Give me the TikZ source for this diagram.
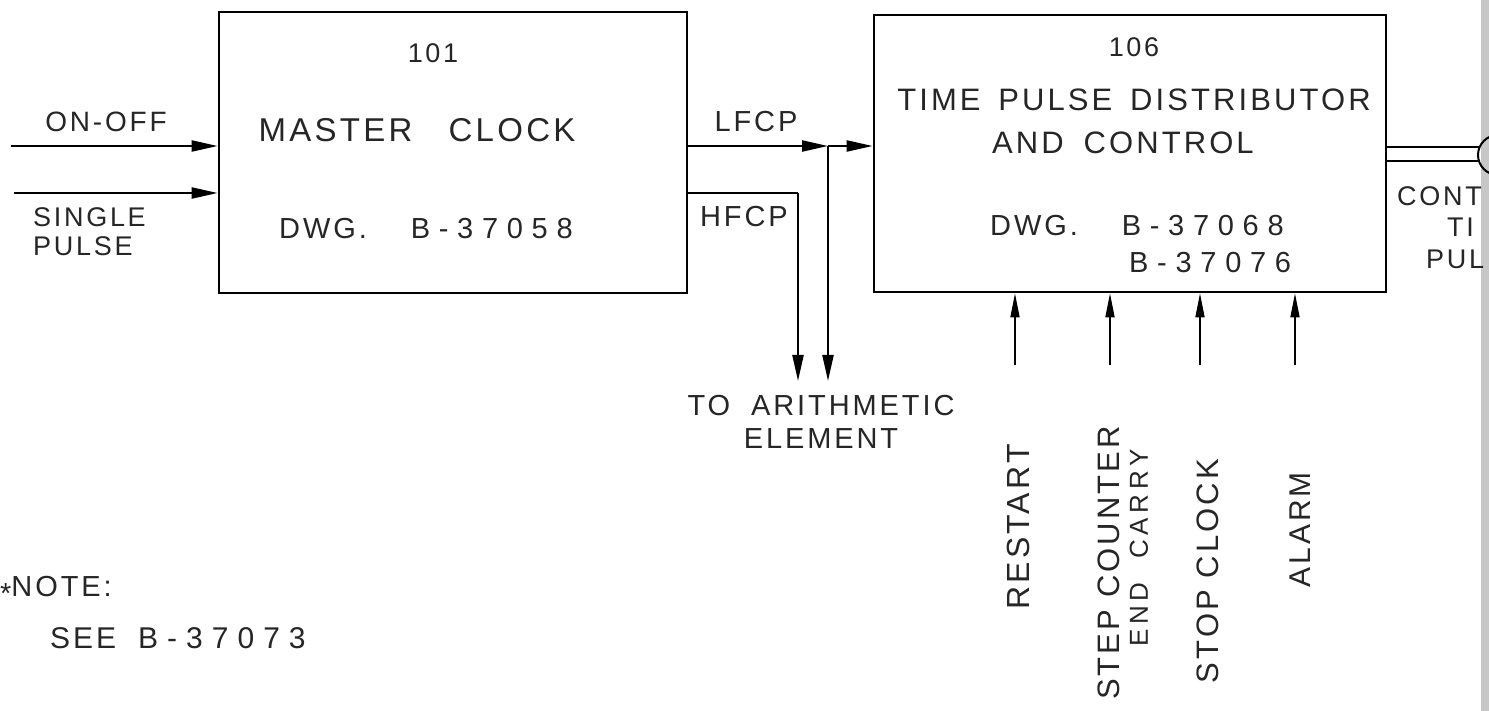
\documentclass[tikz,border=0pt]{standalone}
\usepackage{fontspec}
\setmainfont{Liberation Sans}[LetterSpace=10]
\usetikzlibrary{arrows.meta}
\newcommand{\wnum}[1]{{\addfontfeature{LetterSpace=30}#1}}
\tikzset{
  blockbox/.style={draw, line width=2.7pt, minimum width=#1, inner sep=0pt},
  txt/.style={inner sep=0pt, text=black!85, font=\fontsize{#1pt}{#1pt}\selectfont},
  arr/.style={line width=2.2pt, -{Triangle[length=26pt,width=11pt]}},
  arrthin/.style={line width=1.7pt, -{Triangle[length=24pt,width=9pt]}},
  wire/.style={line width=2.2pt}
}
\begin{document}
\begin{tikzpicture}[x=1pt,y=-1pt]
\clip (0,0) rectangle (1489,711);
\fill[white] (0,0) rectangle (1489,711);
\fill[black!22] (1481,0) rectangle (1489,711);

% blocks
\node[blockbox=468pt, minimum height=281pt] (mc) at (453,152.5) {};
\node[blockbox=512pt, minimum height=277pt] (tpd) at (1130,153.5) {};

% texts in master clock
\node[txt=27] (mcnum) at (433,53) {101};
\node[txt=33] (mcname) at (417,130) {MASTER\hspace{36pt}CLOCK};
\node[txt=29, anchor=west] (mcdwg) at (279,229) {DWG.\hspace{44pt}\wnum{B-37058}};

% texts in TPD
\node[txt=27] (tpnum) at (1134,47) {106};
\node[txt=31] (tpname) at (1134,100) {TIME\hspace{6pt} PULSE\hspace{6pt} DISTRIBUTOR};
\node[txt=31] (tpname2) at (1123,143) {AND\hspace{8pt} CONTROL};
\node[txt=29, anchor=west] (tpdwg) at (990,226) {DWG.\hspace{44pt}\wnum{B-37068}};
\node[txt=29, anchor=west] (tpdwg2) at (1129,263) {\wnum{B-37076}};

% inputs to master clock
\coordinate (onoffS) at (11,146);
\coordinate (singS) at (14,193);
\draw[arr] (onoffS) -- (onoffS -| mc.west);
\draw[arr] (singS) -- (singS -| mc.west);
\node[txt=28] (onofflab) at (106,122) {ON-OFF};
\node[inner sep=0pt, text=black!85, font=\fontsize{27pt}{29pt}\selectfont, align=left, anchor=west] (singlab) at (33,232) {SINGLE\\PULSE};

% LFCP / HFCP
\coordinate (lj) at (828,146);
\coordinate (lend) at (828,381);
\coordinate (hc) at (798,193);
\coordinate (hend) at (798,381);
\draw[arr] (mc.east |- lj) -- (lj);
\draw[arr] (lj) -- (lj -| tpd.west);
\draw[arr] (lj) -- (lend);
\draw[wire] (mc.east |- hc) -- (hc);
\draw[arr] (hc) -- (hend);
\node[txt=29] (lfcp) at (756,122) {LFCP};
\node[txt=29] (hfcp) at (744,217) {HFCP};
\node[inner sep=0pt, text=black!85, font=\fontsize{29pt}{33pt}\selectfont, align=center] (arith) at (821,422) {TO\hspace{10pt} ARITHMETIC\\ELEMENT};

% outputs on the right
\node[draw, circle, line width=2pt, minimum size=40pt, inner sep=0pt] (conn) at (1498,155) {};
\coordinate (o1) at (1480,147);
\coordinate (o2) at (1479,161);
\draw[wire] (o1 -| tpd.east) -- (o1);
\draw[wire] (o2 -| tpd.east) -- (o2);
\node[txt=27, anchor=east] (cont1) at (1482,196) {CONT};
\node[txt=27, anchor=west] (cont2) at (1447,227) {TI};
\node[txt=27, anchor=west] (cont3) at (1426,259) {PUL};

% bottom inputs
\coordinate (in1) at (1015,365);
\coordinate (in2) at (1110,365);
\coordinate (in3) at (1200,365);
\coordinate (in4) at (1295,365);
\foreach \c in {in1,in2,in3,in4} \draw[arrthin] (\c) -- (\c |- tpd.south);
\node[txt=32, rotate=90] (restart) at (1018,527) {RESTART};
\node[txt=31, rotate=90] (stepc) at (1109,563) {STEP COUNTER};
\node[txt=26, rotate=90] (endc) at (1139,548) {\addfontfeature{LetterSpace=18}END\hspace{24pt}CARRY};
\node[txt=31, rotate=90] (stopc) at (1208,571) {STOP CLOCK};
\node[txt=30, rotate=90] (alarm) at (1300,530) {ALARM};

% note
\node[txt=29, anchor=west] (note) at (0,590) {\raisebox{-7pt}{*}NOTE:};
\node[txt=30, anchor=west] (see) at (50,638) {SEE\hspace{22pt}\wnum{B-37073}};
\end{tikzpicture}
\end{document}
